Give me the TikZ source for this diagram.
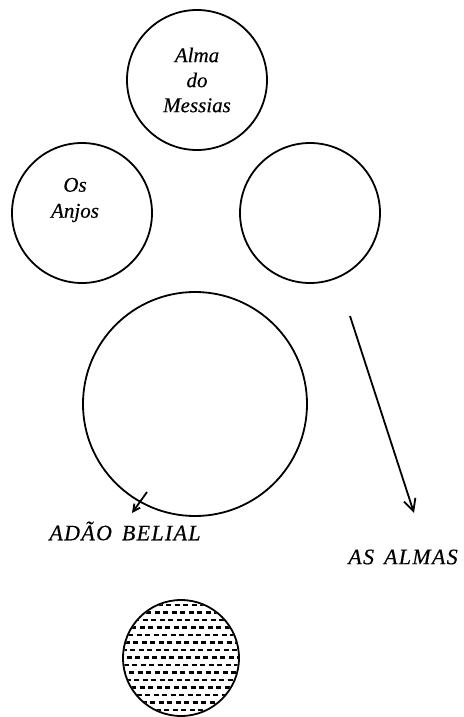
\documentclass[tikz,border=0pt]{standalone}
\usepackage{fontspec}
\setmainfont{Liberation Serif}
\usetikzlibrary{arrows.meta,positioning,calc}
\newcommand\lsp{\kern1.3pt}
\tikzset{
  soulcircle/.style={
    circle, draw=black, line width=1.8pt,
    minimum size=#1, inner sep=0pt, align=center,
    font=\fontsize{21}{25}\selectfont\itshape\addfontfeature{FakeBold=0.4}
  },
  soulcircle/.default=140pt,
  soultext/.style={
    align=center, inner sep=0pt,
    font=\fontsize{21}{26}\selectfont\itshape\addfontfeature{FakeBold=0.4}
  },
  caplabel/.style={
    inner sep=0pt,
    font=\fontsize{22}{24}\selectfont\itshape\addfontfeature{FakeBold=0.4}
  },
  fallarrow/.style={
    -{Straight Barb[length=#1, width=#1]}, line width=1.8pt
  },
  fallarrow/.default=12pt,
  hatchrow/.style={
    line width=2.4pt, dash pattern=on 5pt off 3.5pt
  },
}
\begin{document}
\begin{tikzpicture}[x=1pt, y=-1pt]
\useasboundingbox (0,0) rectangle (463,717);

% upper circles
\node[soulcircle] (messiah) at (197,80) {Alma\\do\\Messias};
\node[soulcircle] (angels) at (82,213) {};
\node[soultext] (angelstext) at ($(angels.center)+(-7,-13)$) {Os\\Anjos};
\node[soulcircle] (empty) at (310,213) {};

% Adam Belial
\node[soulcircle=224pt] (adam) at (195,404) {};
\node[caplabel] (belial) at (125,531)
  {A\lsp D\lsp Ã\lsp O\hspace{10pt}B\lsp E\lsp L\lsp I\lsp A\lsp L};
\coordinate (adamfrom) at (147,492);
\coordinate (adamto) at (132,513);
\draw[fallarrow=7pt] (adamfrom) -- (adamto);

% souls
\node[caplabel] (almas) at (403,557) {A\lsp S\hspace{10pt}A\lsp L\lsp M\lsp A\lsp S};
\coordinate (soulsfrom) at (350,316);
\coordinate (soulsto) at (414,513);
\draw[fallarrow] (soulsfrom) -- (soulsto);

% hatched circle
\node[soulcircle=116pt] (matter) at (181,658) {};
\begin{scope}
  \clip (181,658) circle (57pt);
  \foreach \row [count=\i] in {605,612.5,...,716}
    \draw[hatchrow, dash phase={mod(\i*3,8)*1pt}] (118,\row) -- (246,\row);
\end{scope}

\end{tikzpicture}
\end{document}
